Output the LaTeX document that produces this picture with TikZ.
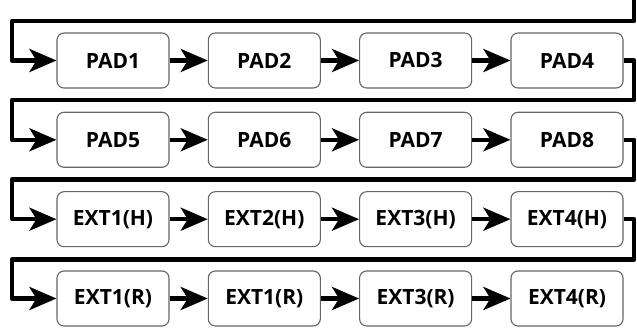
\documentclass[tikz,border=0pt]{standalone}
\usepackage{fontspec}
\setmainfont{Open Sans}
\usetikzlibrary{arrows.meta}
\begin{document}
\begin{tikzpicture}[x=1pt,y=-1pt,
  padbox/.style={draw=black!60,line width=1.1pt,rounded corners=7pt,minimum width=112pt,minimum height=55pt,inner sep=0pt,font=\fontsize{21}{23}\selectfont\bfseries},
  conn/.style={line width=4.3pt,line join=round},
  arr/.style={conn,-{Stealth[length=27pt,width=23pt,inset=7pt]}}]
\useasboundingbox (0,0) rectangle (637,328);
% boxes
\node[padbox] (a1) at (113,60.5) {PAD1};
\node[padbox] (a2) at (264.3,60.5) {PAD2};
\node[padbox] (a3) at (415.6,60.5) {PAD3};
\node[padbox] (a4) at (567,60.5) {PAD4};
\node[padbox] (b1) at (113,139.8) {PAD5};
\node[padbox] (b2) at (264.3,139.8) {PAD6};
\node[padbox] (b3) at (415.6,139.8) {PAD7};
\node[padbox] (b4) at (567,139.8) {PAD8};
\node[padbox] (c1) at (113,219.2) {EXT1(H)};
\node[padbox] (c2) at (264.3,219.2) {EXT2(H)};
\node[padbox] (c3) at (415.6,219.2) {EXT3(H)};
\node[padbox] (c4) at (567,219.2) {EXT4(H)};
\node[padbox] (d1) at (113,298.5) {EXT1(R)};
\node[padbox] (d2) at (264.3,298.5) {EXT1(R)};
\node[padbox] (d3) at (415.6,298.5) {EXT3(R)};
\node[padbox] (d4) at (567,298.5) {EXT4(R)};
% bend coordinates
\def\xr{634.3}
\def\xl{12}
\coordinate (top) at (\xr,-2);
\coordinate (tr) at (\xr,21);
\coordinate (tl) at (\xl,21);
\coordinate (al) at (\xl,60.5);
\coordinate (ar) at (\xr,60.5);
\coordinate (abr) at (\xr,100);
\coordinate (abl) at (\xl,100);
\coordinate (bl) at (\xl,139.8);
\coordinate (br) at (\xr,139.8);
\coordinate (bcr) at (\xr,179.6);
\coordinate (bcl) at (\xl,179.6);
\coordinate (cl) at (\xl,219.2);
\coordinate (cr) at (\xr,219.2);
\coordinate (cdr) at (\xr,259.5);
\coordinate (cdl) at (\xl,259.5);
\coordinate (dl) at (\xl,298.5);
% row feeds
\draw[arr] (top) -- (tr) -- (tl) -- (al) -- (a1.west);
\draw[arr] (a4.east) -- (ar) -- (abr) -- (abl) -- (bl) -- (b1.west);
\draw[arr] (b4.east) -- (br) -- (bcr) -- (bcl) -- (cl) -- (c1.west);
\draw[arr] (c4.east) -- (cr) -- (cdr) -- (cdl) -- (dl) -- (d1.west);
% in-row arrows
\foreach \r in {a,b,c,d}{
  \draw[arr] (\r1.east) -- (\r2.west);
  \draw[arr] (\r2.east) -- (\r3.west);
  \draw[arr] (\r3.east) -- (\r4.west);
}
\end{tikzpicture}
\end{document}
